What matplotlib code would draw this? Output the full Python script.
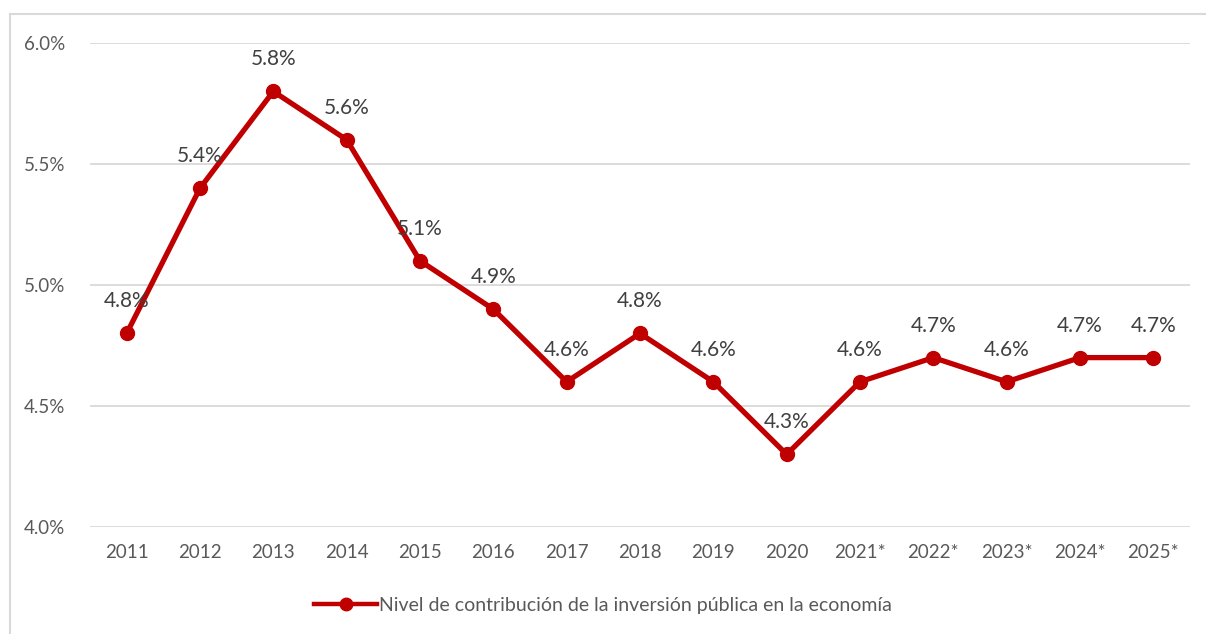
import numpy as np
import matplotlib.pyplot as plt
from matplotlib.lines import Line2D

# Data
years = ["2011", "2012", "2013", "2014", "2015", "2016", "2017", "2018",
         "2019", "2020", "2021*", "2022*", "2023*", "2024*", "2025*"]
valores = [4.8, 5.4, 5.8, 5.6, 5.1, 4.9, 4.6, 4.8, 4.6, 4.3, 4.6, 4.7, 4.6, 4.7, 4.7]
yticks = [4.0, 4.5, 5.0, 5.5, 6.0]
serie = "Nivel de contribución de la inversión pública en la economía"

plt.rcParams['font.family'] = ['Lato', 'DejaVu Sans']
rojo = "#C00000"
gris = "#595959"

fig = plt.figure(figsize=(12.06, 6.34), dpi=100)
ax = fig.add_axes([90/1206, 107/634, 1100/1206, 484/634])

x = np.arange(len(years))
ax.plot(x, valores, color=rojo, lw=3.8, marker='o', markersize=10,
        solid_joinstyle='miter', label=serie)

for xi, v in zip(x, valores):
    ax.annotate(f"{v:.1f}%", (xi, v), xytext=(0, 23), textcoords='offset points',
                ha='center', va='center', fontsize=15, color="#404040")

ax.set_xlim(-0.5, len(years) - 0.5)
ax.set_ylim(4.0, 6.0)
ax.set_xticks(x)
ax.set_xticklabels(years)
ax.set_yticks(yticks)
ax.set_yticklabels([f"{t:.1f}%" for t in yticks])
ax.tick_params(length=0, labelsize=13.5, colors=gris, pad=12)
ax.tick_params(axis='y', pad=18)
ax.grid(axis='y', color="#d9d9d9", lw=1.3)
ax.set_axisbelow(True)
for s in ax.spines.values():
    s.set_visible(False)

# legend
h = Line2D([], [], color=rojo, lw=3.2, marker='o', markersize=9)
fig.legend([h], [serie], loc='center', bbox_to_anchor=(0.5, 1 - 605/634),
           frameon=False, fontsize=14, labelcolor=gris, handlelength=3.2,
           handletextpad=0.1)

# chart frame (cropped)
fig.add_artist(Line2D([10/1206, 10/1206], [0, 1 - 14/634], color="#d9d9d9", lw=1.5))
fig.add_artist(Line2D([10/1206, 1], [1 - 14/634, 1 - 14/634], color="#d9d9d9", lw=1.5))

fig.savefig("out.png", dpi=100)
